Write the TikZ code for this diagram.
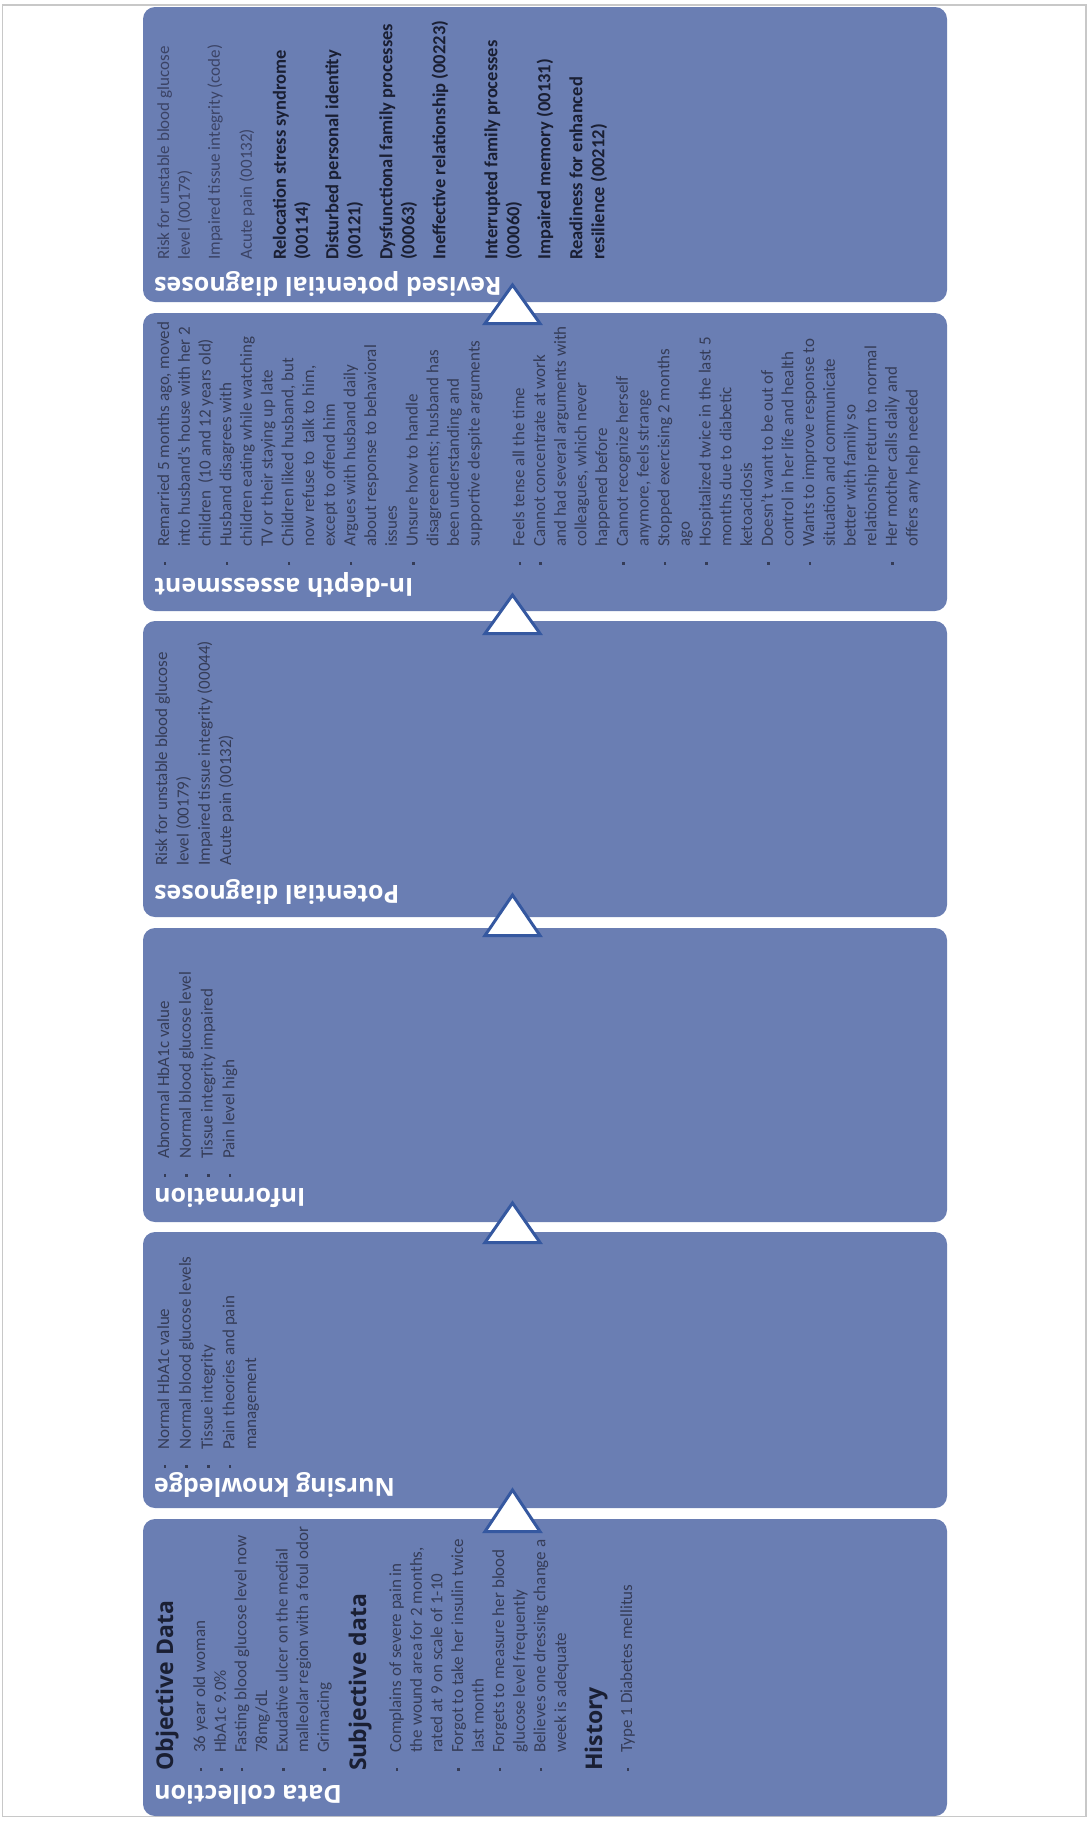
\documentclass[tikz,border=0pt]{standalone}
\usepackage{fontspec}
\setmainfont{Carlito}
\newfontfamily\osans{Open Sans}
\definecolor{boxfill}{HTML}{6A7EB3}
\definecolor{lighttxt}{HTML}{353C57}
\definecolor{paletxt}{HTML}{3B4365}
\definecolor{darktxt}{HTML}{1A1F33}
\definecolor{triline}{HTML}{3558A0}
\definecolor{framegray}{HTML}{C8C8C8}
\newcommand\bu{\raisebox{3pt}{\rule{2.6pt}{2.6pt}}}
\newcommand\hd[1]{\multicolumn{2}{@{}l@{}}{\smash{\osans\bfseries\fontsize{23}{23}\selectfont\color{darktxt}#1}}}
\newcommand\bd[1]{\smash{\fontsize{18.5}{22}\selectfont\bfseries\color{darktxt}#1}}
\newcommand\pl[1]{\textcolor{paletxt}{#1}}
\begin{document}
\begin{tikzpicture}[x=1pt,y=-1pt,
  box/.style={rectangle, rounded corners=12pt, fill=boxfill, minimum width=804pt, inner sep=0pt},
  content/.style={rotate=90, anchor=north west, inner sep=0pt, font=\fontsize{17}{20.6}\selectfont, text=lighttxt},
  title/.style={rotate=180, anchor=base east, inner sep=0pt, font=\osans\bfseries\fontsize{25}{25}\selectfont, text=white},
  tri/.style={draw=triline, fill=white, line width=3pt, line join=miter}]
\useasboundingbox (0,0) rectangle (1091,1821);
\draw[framegray, line width=1.2pt] (2.5,5) rectangle (1086,1816.5);
% boxes
\node[box, minimum height=295pt] (b1) at (545,154.5) {};
\node[box, minimum height=298pt] (b2) at (545,462) {};
\node[box, minimum height=296pt] (b3) at (545,769) {};
\node[box, minimum height=294pt] (b4) at (545,1075) {};
\node[box, minimum height=276pt] (b5) at (545,1370) {};
\node[box, minimum height=297pt] (b6) at (545,1667.5) {};
% arrows between boxes
\foreach \ap/\bs in {285/323.5, 595/633.5, 895/935.5, 1203/1242.5, 1490/1531.5}
  \draw[tri] (512.5,\ap) -- (540,\bs) -- (485,\bs) -- cycle;
% titles
\node[title] (t1) at (154,277) {Revised potential diagnoses};
\node[title] (t2) at (154,578) {In-depth assessment};
\node[title] (t3) at (154,885) {Potential diagnoses};
\node[title] (t4) at (154,1188) {Information};
\node[title] (t5) at (154,1478) {Nursing knowledge};
\node[title] (t6) at (154,1785) {Data collection};
% contents
\node[content] (c6) at (158.6,1771) {\begin{tabular}{@{}l@{\hspace{15.4pt}}l@{}}
\hd{Objective Data}\\[11.4pt]
\bu & 36 year old woman\\
\bu & HbA1c 9.0\%\\
\bu & Fasting blood glucose level now\\
 & 78mg/dL\\
\bu & Exudative ulcer on the medial\\
 & malleolar region with a foul odor\\
\bu & Grimacing\\[16.8pt]
\hd{Subjective data}\\[14.4pt]
\bu & Complains of severe pain in\\
 & the wound area for 2 months,\\
 & rated at 9 on scale of 1-10\\
\bu & Forgot to take her insulin twice\\
 & last month\\
\bu & Forgets to measure her blood\\
 & glucose level frequently\\
\bu & Believes one dressing change a\\
 & week is adequate\\[15.6pt]
\hd{History}\\[9.4pt]
\bu & Type 1 Diabetes mellitus
\end{tabular}};
\node[content] (c5) at (154.6,1468) {\begin{tabular}{@{}l@{\hspace{15.4pt}}l@{}}
\bu & Normal HbA1c value\\[1.15pt]
\bu & Normal blood glucose levels\\[1.15pt]
\bu & Tissue integrity\\[1.15pt]
\bu & Pain theories and pain\\[1.15pt]
 & management
\end{tabular}};
\node[content] (c4) at (154.6,1177) {\begin{tabular}{@{}l@{\hspace{15.4pt}}l@{}}
\bu & Abnormal HbA1c value\\[1.1pt]
\bu & Normal blood glucose level\\[1.1pt]
\bu & Tissue integrity impaired\\[1.1pt]
\bu & Pain level high
\end{tabular}};
\node[content] (c3) at (152.6,866) {\begin{tabular}{@{}l@{}}
Risk for unstable blood glucose\\[0.7pt]
level (00179)\\[0.7pt]
Impaired tissue integrity (00044)\\[0.7pt]
Acute pain (00132)
\end{tabular}};
\node[content, font=\fontsize{17}{20.7}\selectfont] (c2) at (154.5,565) {\begin{tabular}{@{}l@{\hspace{15.4pt}}l@{}}
\bu & Remarried 5 months ago, moved\\
 & into husband’s house with her 2\\
 & children~ (10 and 12 years old)\\
\bu & Husband disagrees with\\
 & children eating while watching\\
 & TV or their staying up late\\
\bu & Children liked husband, but\\
 & now refuse to~ talk to him,\\
 & except to offend him\\
\bu & Argues with husband daily\\
 & about response to behavioral\\
 & issues\\
\bu & Unsure how to handle\\
 & disagreements; husband has\\
 & been understanding and\\
 & supportive despite arguments\\[24pt]
\bu & Feels tense all the time\\
\bu & Cannot concentrate at work\\
 & and had several arguments with\\
 & colleagues, which never\\
 & happened before\\
\bu & Cannot recognize herself\\
 & anymore, feels strange\\
\bu & Stopped exercising 2 months\\
 & ago\\
\bu & Hospitalized twice in the last 5\\
 & months due to diabetic\\
 & ketoacidosis\\
\bu & Doesn’t want to be out of\\
 & control in her life and health\\
\bu & Wants to improve response to\\
 & situation and communicate\\
 & better with family so\\
 & relationship return to normal\\
\bu & Her mother calls daily and\\
 & offers any help needed
\end{tabular}};
\node[content] (c1) at (154.6,260) {\begin{tabular}{@{}l@{}}
\pl{Risk for unstable blood glucose}\\
\pl{level (00179)}\\[9.4pt]
\pl{Impaired tissue integrity (code)}\\[11.4pt]
\pl{Acute pain (00132)}\\[13.4pt]
\bd{Relocation stress syndrome}\\[1.4pt]
\bd{(00114)}\\[9.9pt]
\bd{Disturbed personal identity}\\[1.4pt]
\bd{(00121)}\\[11.4pt]
\bd{Dysfunctional family processes}\\[1.4pt]
\bd{(00063)}\\[10.4pt]
\bd{Ineffective relationship (00223)}\\[31.4pt]
\bd{Interrupted family processes}\\[1.4pt]
\bd{(00060)}\\[10.4pt]
\bd{Impaired memory (00131)}\\[11.4pt]
\bd{Readiness for enhanced}\\[1.4pt]
\bd{resilience (00212)}
\end{tabular}};
\end{tikzpicture}
\end{document}
